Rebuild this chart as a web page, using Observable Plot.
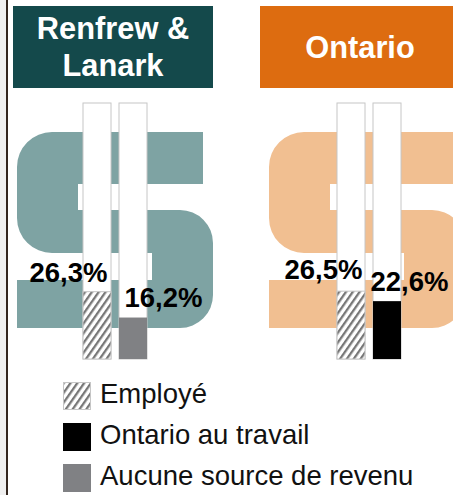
<!DOCTYPE html>
<html><head><meta charset="utf-8">
<script src="https://cdn.jsdelivr.net/npm/d3@7"></script>
<script src="https://cdn.jsdelivr.net/npm/@observablehq/plot@0.6"></script>
<style>
html,body{margin:0;padding:0;background:#fff;}
body{position:relative;width:453px;height:495px;overflow:hidden;font-family:"Liberation Sans",Arial,sans-serif;}
#strip{position:absolute;left:0;top:0;width:6px;height:495px;background:#f0f0f0;border-right:2px solid #33261f;box-sizing:content-box;}
.hdr{position:absolute;top:6px;height:82px;color:#fff;font-weight:bold;font-size:30.8px;line-height:37px;display:flex;align-items:center;justify-content:center;text-align:center;}
#chart{position:absolute;left:0;top:100px;}
#chart svg{display:block;overflow:hidden;}
.li{position:absolute;left:63px;height:28px;display:flex;align-items:center;font-size:27.5px;color:#111;white-space:nowrap;}
.li svg{width:28px;height:28px;margin-right:9px;flex:none;}
.li span{position:relative;top:-2px;}
</style></head><body>
<div id="strip"></div>
<div id="h0" class="hdr" style="left:13px;width:200px;background:#14494b"></div>
<div id="h1" class="hdr" style="left:260px;width:200px;background:#dd6c10"></div>
<div id="chart"></div>
<div id="legend"></div>
<script>
const regions = ["Renfrew & Lanark", "Ontario"];
const regionValuesEmploye = [26.3, 26.5];
const regionValuesSecond = [16.2, 22.6];
const secondCategory = ["Aucune source de revenu", "Ontario au travail"];
const legendCategories = ["Employé", "Ontario au travail", "Aucune source de revenu"];
const slots = ["employe", "second"];

const HATCH = "url(#hatch)";
const fills = {"Employé": HATCH, "Ontario au travail": "#000000", "Aucune source de revenu": "#808184"};
const dollarFills = {"Renfrew & Lanark": "#7ea3a3", "Ontario": "#f1bf91"};

const rows = regions.flatMap((r, i) => [
  {region: r, slot: "employe", category: "Employé", value: regionValuesEmploye[i]},
  {region: r, slot: "second", category: secondCategory[i], value: regionValuesSecond[i]}
]);
const fmt = v => v.toFixed(1).replace(".", ",") + "%";

const patternDef = `<pattern id="hatch" patternUnits="userSpaceOnUse" width="5.6" height="5.6" patternTransform="rotate(35)">
  <rect width="5.6" height="5.6" fill="#ffffff"/><rect width="2.3" height="5.6" fill="#777777"/></pattern>`;

regions.forEach((r, i) => {
  const el = document.getElementById("h" + i);
  el.innerHTML = r === "Renfrew & Lanark" ? "Renfrew &amp;<br>Lanark" : r;
});

const labelMark = (region, slot, dx, dy) => Plot.text(
  rows.filter(d => d.region === region && d.slot === slot),
  {fx: "region", x: "slot", y: "value", text: d => fmt(d.value), dx, dy,
   fontSize: 27.5, fontWeight: "bold", fill: "#000", lineAnchor: "bottom"});

const plot = Plot.plot({
  width: 453, height: 270,
  marginLeft: 0, marginRight: 0, marginTop: 0, marginBottom: 0,
  style: {fontFamily: '"Liberation Sans",Arial,sans-serif', background: "transparent"},
  fx: {domain: regions, range: [13, 467], paddingInner: 54/254, paddingOuter: 0, axis: null},
  x: {domain: slots, range: [70, 134], paddingInner: 8/36, paddingOuter: 0, axis: null},
  y: {domain: [0, 100], range: [259, 3], axis: null},
  marks: [
    Plot.barY(rows, {fx: "region", x: "slot", y1: 0, y2: 100, fill: "#fff", stroke: "#c6c6c6", strokeWidth: 1}),
    Plot.barY(rows.filter(d => d.category === "Employé"), {fx: "region", x: "slot", y1: 0, y2: "value", fill: HATCH, stroke: "#c6c6c6", strokeWidth: 1}),
    Plot.barY(rows.filter(d => d.category !== "Employé"), {fx: "region", x: "slot", y1: 0, y2: "value", fill: d => fills[d.category]}),
    labelMark(regions[0], "employe", -29, -10),
    labelMark(regions[0], "second", 30, -11),
    labelMark(regions[1], "employe", -28, -13),
    labelMark(regions[1], "second", 22, -11)
  ]
});

// Decorative dollar-shaped backdrop of each panel, beneath the marks
const dollarPath = "M52,32H203V84H78V110H180A33,33 0 0 1 213,143V195A33,33 0 0 1 180,228H17V180H152V153H52A35,35 0 0 1 17,118V67A35,35 0 0 1 52,32Z";
const back = d3.select(plot).insert("g", ":first-child");
back.append("defs").html(patternDef);
[0, 252].forEach((dx, i) => {
  back.append("path").attr("d", dollarPath).attr("transform", `translate(${dx},0)`)
    .attr("fill", dollarFills[regions[i]]);
});
document.getElementById("chart").appendChild(plot);

const legend = document.getElementById("legend");
const tops = [382, 423, 464];
legendCategories.forEach((c, i) => {
  const f = fills[c];
  const item = document.createElement("div");
  item.className = "li";
  item.style.top = tops[i] + "px";
  item.innerHTML = `<svg viewBox="0 0 28 28"><rect x="0.5" y="0.5" width="27" height="27" fill="${f}" stroke="${f === HATCH ? "#c6c6c6" : f}"/></svg><span>${c}</span>`;
  legend.appendChild(item);
});
</script></body></html>
